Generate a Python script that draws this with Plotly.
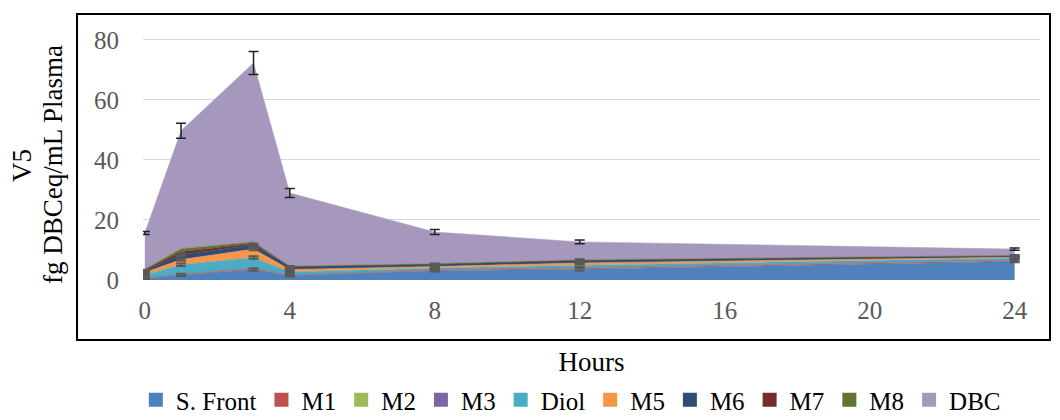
import numpy as np
import plotly.graph_objects as go

hours = [0, 1, 3, 4, 8, 12, 24]
series_names = ["S. Front", "M1", "M2", "M3", "Diol", "M5", "M6", "M7", "M8", "DBC"]
s_front = [0.5, 1.7, 3.5, 1.5, 3.1, 3.6, 6.2]
m1 = [0.1, 0.2, 0.3, 0.1, 0.3, 0.3, 0.3]
m2 = [0.05, 0.1, 0.1, 0.05, 0.1, 0.1, 0.1]
m3 = [0.05, 0.1, 0.1, 0.05, 0.1, 0.1, 0.1]
diol = [1.0, 3.0, 3.5, 1.0, 0.4, 0.8, 0.6]
m5 = [0.8, 1.7, 2.8, 0.8, 0.5, 0.8, 0.3]
m6 = [0.6, 1.6, 1.4, 0.9, 0.7, 0.8, 0.4]
m7 = [0.3, 1.0, 0.5, 0.1, 0.1, 0.1, 0.1]
m8 = [0.2, 1.0, 0.5, 0.1, 0.1, 0.1, 0.1]
dbc = [12.1, 39.3, 59.6, 24.4, 10.6, 6.0, 2.1]
dbc_err = [0.5, 2.5, 3.8, 1.5, 0.8, 0.6, 0.4]
comp_err = [0.3, 0.4, 0.4, 0.3, 0.3, 0.4, 0.3]

colors = ["#4F81BD", "#C0504D", "#9BBB59", "#8064A2", "#4BACC6",
          "#F79646", "#2C4D75", "#772C2A", "#5F7530", "#A698BD"]
values = [s_front, m1, m2, m3, diol, m5, m6, m7, m8, dbc]

fig = go.Figure()
for name, vals, col in zip(series_names, values, colors):
    fig.add_trace(go.Scatter(x=hours, y=vals, name=name, stackgroup="one",
                             mode="lines", line=dict(width=0.5, color=col),
                             fillcolor=col, showlegend=False))

# small grey error bars on component layers
cum = np.cumsum(np.array(values[:-1]), axis=0)
for idx in [0, 4, 5, 6]:
    fig.add_trace(go.Scatter(x=hours, y=cum[idx], mode="lines",
                             line=dict(width=0, color="rgba(0,0,0,0)"),
                             error_y=dict(type="data", array=comp_err, color="#595959",
                                          thickness=2, width=5),
                             showlegend=False, hoverinfo="skip"))

total = np.sum(np.array(values), axis=0)
fig.add_trace(go.Scatter(x=hours, y=total, mode="lines",
                         line=dict(width=0, color="rgba(0,0,0,0)"),
                         error_y=dict(type="data", array=dbc_err, color="#222222",
                                      thickness=1.5, width=5),
                         showlegend=False, hoverinfo="skip"))

for name, col in zip(series_names, colors):
    fig.add_trace(go.Scatter(x=[None], y=[None], mode="markers", name=name,
                             marker=dict(symbol="square", size=14, color=col)))

# page body has an 8px margin, so the figure starts 8px in from the window edge
W, H = 1052, 412
serif = "Liberation Serif"
fig.update_layout(
    width=W, height=H,
    margin=dict(l=135, r=20, t=22, b=140, autoexpand=False),
    plot_bgcolor="white", paper_bgcolor="white",
    font=dict(family=serif, size=26, color="black"),
    xaxis=dict(range=[-0.05, 24.7], tickvals=[0, 4, 8, 12, 16, 20, 24],
               showgrid=False, zeroline=False, showline=False,
               ticks="outside", ticklen=8, tickcolor="rgba(0,0,0,0)",
               tickfont=dict(size=25, color="#595959"),
               title=dict(text="Hours", font=dict(size=27), standoff=45)),
    yaxis=dict(range=[0, 83.3], tickvals=[0, 20, 40, 60, 80],
               showgrid=True, gridcolor="#D9D9D9", gridwidth=1,
               zeroline=False, showline=False,
               ticks="outside", ticklen=18, tickcolor="rgba(0,0,0,0)",
               tickfont=dict(size=25, color="#595959")),
    legend=dict(orientation="h", xref="container", yref="container",
                x=0.535, xanchor="center", y=(H - 392) / H, yanchor="middle",
                font=dict(size=25), itemwidth=30, traceorder="normal"),
    showlegend=True,
)

fig.add_annotation(text="V5", xref="paper", yref="paper",
                   x=(22 - 143) / 897, y=(280 - 165) / 250, textangle=-90,
                   showarrow=False, font=dict(size=27), xanchor="center", yanchor="middle")
fig.add_annotation(text="fg DBCeq/mL Plasma", xref="paper", yref="paper",
                   x=(53 - 143) / 897, y=(280 - 165) / 250, textangle=-90,
                   showarrow=False, font=dict(size=27), xanchor="center", yanchor="middle")

fig.add_shape(type="rect", xref="paper", yref="paper",
              x0=(77 - 143) / 897, x1=(1050 - 143) / 897,
              y0=(280 - 340) / 250, y1=(280 - 14) / 250,
              line=dict(color="black", width=2), fillcolor="rgba(0,0,0,0)")

fig.write_html("out.html")
